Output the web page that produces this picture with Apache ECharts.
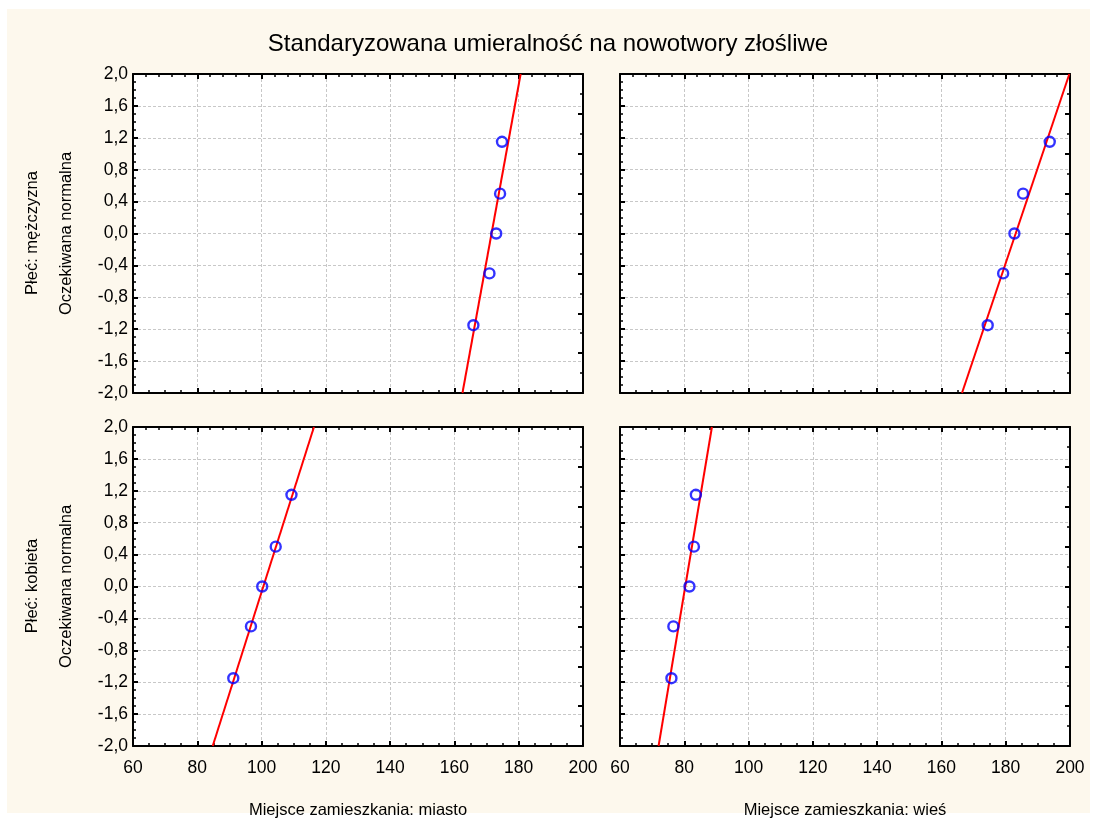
<!DOCTYPE html>
<html>
<head>
<meta charset="utf-8">
<script src="https://cdn.jsdelivr.net/npm/echarts@6/dist/echarts.min.js"></script>
<style>
body { margin: 0; background: #fff; }
</style>
</head>
<body>
<div id="ch" style="width: 1096px; height: 820px;"></div>

<script>
// expected normal values (same for every panel)
var expNormal = [-1.15, -0.5, 0, 0.5, 1.15]

// observed values per panel
var menCity = [165.9, 170.9, 173.0, 174.2, 174.8]
var menVillage = [174.4, 179.2, 182.7, 185.4, 193.7]
var womenCity = [91.2, 96.7, 100.2, 104.4, 109.3]
var womenVillage = [76.0, 76.6, 81.6, 83.0, 83.6]

// fitted line x values at y = -2 and y = 2
var lineY = [-2, 2]
var menCityLine = [162.5, 180.6]
var menVillageLine = [166.4, 199.8]
var womenCityLine = [84.8, 116.3]
var womenVillageLine = [72.0, 88.6]

var rowLabels = ['Płeć: mężczyzna', 'Płeć: kobieta']
var colLabels = ['Miejsce zamieszkania: miasto', 'Miejsce zamieszkania: wieś']
var yTitle = 'Oczekiwana normalna'

var font = 'Liberation Sans, Arial, sans-serif'

var chartInst = echarts.init(document.getElementById('ch'))

var panels = [
    { pts: menCity, line: menCityLine, left: 133, top: 74, row: 0, col: 0 },
    { pts: menVillage, line: menVillageLine, left: 620, top: 74, row: 0, col: 1 },
    { pts: womenCity, line: womenCityLine, left: 133, top: 427, row: 1, col: 0 },
    { pts: womenVillage, line: womenVillageLine, left: 620, top: 427, row: 1, col: 1 }
]

var grids = [], xAxes = [], yAxes = [], series = []
var axLine = { show: true, onZero: false, lineStyle: { color: '#000', width: 2 } }

panels.forEach(function(p, i) {
    grids.push({ left: p.left, top: p.top, width: 450, height: 319, backgroundColor: '#fff', show: true, borderWidth: 0 })
    // bottom x axis
    xAxes.push({
        gridIndex: i, type: 'value', min: 60, max: 200, interval: 20, position: 'bottom',
        axisLine: axLine,
        axisTick: { show: true, inside: true, length: 5, lineStyle: { color: '#000', width: 2 } },
        minorTick: { show: true, splitNumber: 4, length: 3, lineStyle: { color: '#000', width: 1.5 } },
        axisLabel: { show: p.row === 1, color: '#000', fontSize: 17.5, fontFamily: font, margin: 13 },
        splitLine: { show: true, lineStyle: { color: '#c8c8c8', type: [3, 2], width: 1 } },
        name: p.row === 1 ? colLabels[p.col] : '',
        nameLocation: 'middle', nameGap: 56,
        nameTextStyle: { color: '#000', fontSize: 16.5, fontFamily: font }
    })
    // top x axis (ticks only)
    xAxes.push({
        gridIndex: i, type: 'value', min: 60, max: 200, interval: 20, position: 'top',
        axisLine: axLine,
        axisTick: { show: true, inside: true, length: 5, lineStyle: { color: '#000', width: 2 } },
        minorTick: { show: true, splitNumber: 5, length: 3, lineStyle: { color: '#000', width: 1.5 } },
        axisLabel: { show: false },
        splitLine: { show: false }
    })
    // left y axis
    yAxes.push({
        gridIndex: i, type: 'value', min: -2, max: 2, interval: 0.4, position: 'left',
        axisLine: axLine,
        axisTick: { show: true, inside: true, length: 5, lineStyle: { color: '#000', width: 2 } },
        minorTick: { show: true, splitNumber: 4, length: 3, lineStyle: { color: '#000', width: 1.5 } },
        axisLabel: {
            show: p.col === 0, color: '#000', fontSize: 17.5, fontFamily: font, margin: 5,
            formatter: function(v) { return v.toFixed(1).replace('.', ',') }
        },
        splitLine: { show: true, lineStyle: { color: '#c8c8c8', type: [3, 2], width: 1 } },
        name: p.col === 0 ? yTitle : '',
        nameLocation: 'middle', nameGap: 58, nameRotate: 90,
        nameTextStyle: { color: '#000', fontSize: 16.5, fontFamily: font }
    })
    // right y axis (ticks only)
    yAxes.push({
        gridIndex: i, type: 'value', min: -2, max: 2, interval: 0.5, position: 'right',
        axisLine: axLine,
        axisTick: { show: true, inside: true, length: 5, lineStyle: { color: '#000', width: 2 } },
        minorTick: { show: true, splitNumber: 2, length: 3, lineStyle: { color: '#000', width: 1.5 } },
        axisLabel: { show: false },
        splitLine: { show: false }
    })
    series.push({
        type: 'line', xAxisIndex: i * 2, yAxisIndex: i * 2,
        data: [[p.line[0], lineY[0]], [p.line[1], lineY[1]]],
        symbol: 'none', lineStyle: { color: '#ff0000', width: 2 },
        clip: true, silent: true, z: 3
    })
    series.push({
        type: 'scatter', xAxisIndex: i * 2, yAxisIndex: i * 2,
        data: p.pts.map(function(x, k) { return [x, expNormal[k]] }),
        symbol: 'circle', symbolSize: 10,
        itemStyle: { color: 'rgba(0,0,0,0)', borderColor: '#0000ff', borderWidth: 2.4 },
        z: 4
    })
})

var option = {
    backgroundColor: '#fff',
    animation: false,
    graphic: [
        { type: 'rect', z: -10, shape: { x: 7, y: 9, width: 1083, height: 804 }, style: { fill: '#fdf8ed' } },
        {
            type: 'text', left: 'center', top: 32,
            style: { text: 'Standaryzowana umieralność na nowotwory złośliwe', fill: '#000', font: '24px ' + font }
        },
        {
            type: 'text', x: 32, y: 233, rotation: Math.PI / 2,
            style: { text: rowLabels[0], fill: '#000', font: '16.5px ' + font, align: 'center', verticalAlign: 'middle' }
        },
        {
            type: 'text', x: 32, y: 586, rotation: Math.PI / 2,
            style: { text: rowLabels[1], fill: '#000', font: '16.5px ' + font, align: 'center', verticalAlign: 'middle' }
        }
    ],
    grid: grids,
    xAxis: xAxes,
    yAxis: yAxes,
    series: series
}
chartInst.setOption(option)
</script>
</body>
</html>
